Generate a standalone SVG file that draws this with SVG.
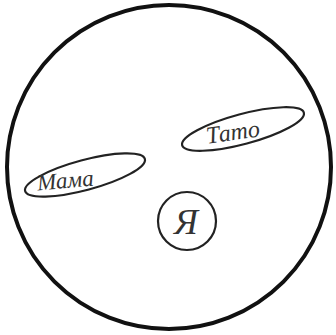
<svg xmlns="http://www.w3.org/2000/svg" width="336" height="335" viewBox="0 0 336 335">
<style>
.shape{fill:none;stroke:#222;stroke-width:2.2}
.lbl{font-family:"Liberation Serif","DejaVu Serif",serif;font-style:italic;fill:#333}
</style>
<rect width="336" height="335" fill="#fff"/>
<g id="family">
<circle cx="169" cy="167" r="162" fill="none" stroke="#111" stroke-width="4"/>
</g>
<g id="mama">
<ellipse class="shape" cx="85" cy="175" rx="62" ry="15" transform="rotate(-15 85 175)"/>
<text class="lbl" x="66" y="188" font-size="23" text-anchor="middle" transform="rotate(-5 66 188)">Мама</text>
</g>
<g id="tato">
<ellipse class="shape" cx="243" cy="129" rx="63" ry="15" transform="rotate(-15 243 129)"/>
<text class="lbl" x="234" y="140" font-size="24" text-anchor="middle" transform="rotate(-8 234 140)">Тато</text>
</g>
<g id="ya">
<circle class="shape" cx="187" cy="221" r="29"/>
<text class="lbl" x="186" y="234" font-size="36" text-anchor="middle">Я</text>
</g>
<g id="connectors"/>
</svg>
